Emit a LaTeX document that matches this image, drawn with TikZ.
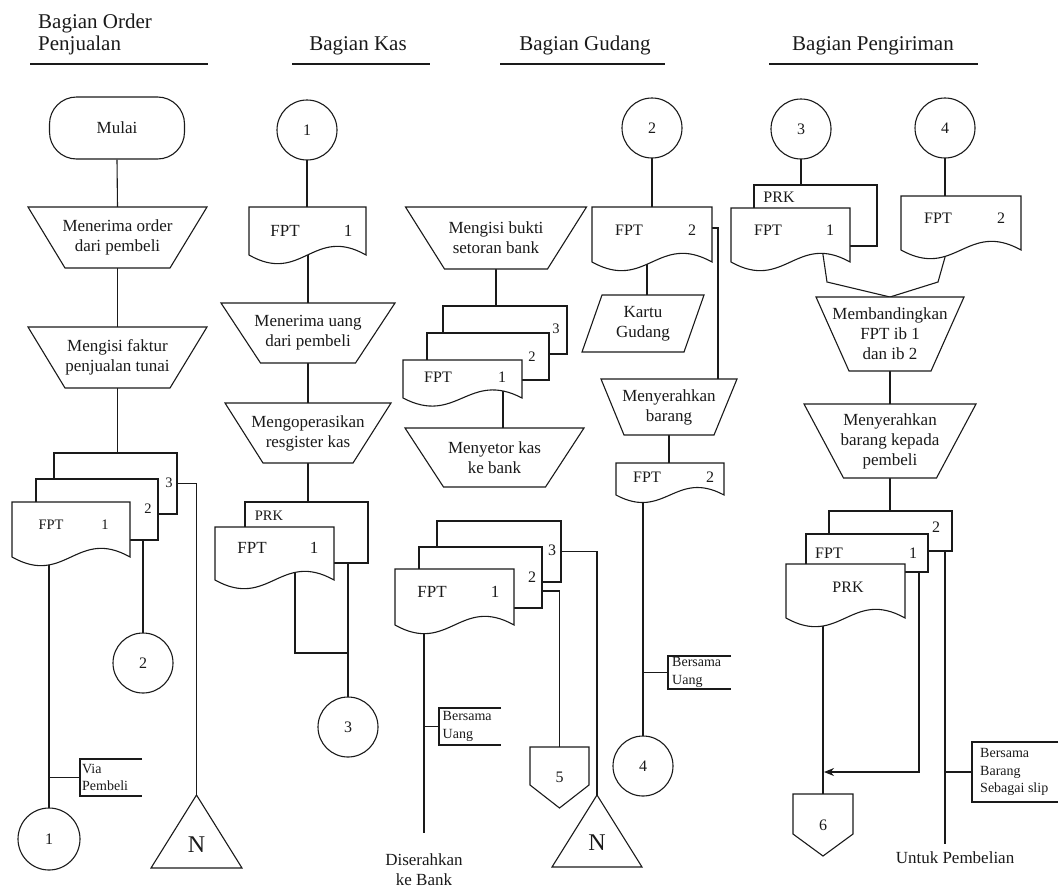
\documentclass[tikz,border=0pt]{standalone}
\usepackage{fontspec}
\setmainfont{Liberation Serif}
\usetikzlibrary{arrows.meta}
\definecolor{ink}{HTML}{1A1A1A}
\pgfdeclarelayer{wires}
\pgfsetlayers{wires,main}

\newcommand\ftitle{\fontsize{21}{25}\selectfont}
\newcommand\fbody{\fontsize{17}{20}\selectfont}
\newcommand\fdoc{\fontsize{16}{19}\selectfont}
\newcommand\fsmall{\fontsize{14.5}{17}\selectfont}
\newcommand\fnote{\fontsize{14}{17.5}\selectfont}
\newcommand\fbig{\fontsize{24}{28}\selectfont}

\tikzset{
  shp/.style={draw=ink, line width=1.1pt, fill=white},
  wire/.style={draw=ink, line width=1.1pt},
  lbl/.style={inner sep=0pt, text=ink, align=center},
  hole/.style={inner sep=0pt, outer sep=0pt},
  conn/.style={shp, circle, inner sep=0pt, outer sep=0pt, minimum size=60, font=\fdoc, text=ink},
}

% trapezoid process box: name, centre x, top y, top width, bottom width, height, text
\newcommand\trapz[7]{%
  \draw[shp] ({#2-#4/2},#3) -- ({#2+#4/2},#3) -- ({#2+#5/2},{#3+#6}) -- ({#2-#5/2},{#3+#6}) -- cycle;
  \node[lbl, hole, font=\fbody, minimum width=#5, minimum height=#6] (#1) at (#2,{#3+#6/2}) {#7};}

% document with wavy foot: name, left, top, right, bottom of sides, wave depth
\newcommand\docu[6]{%
  \draw[shp] (#2,#3) -- (#4,#3) -- (#4,#5) .. controls ({#4-(#4-#2)*0.45},{#5-#6}) and ({#2+(#4-#2)*0.45},{#5+#6}) .. (#2,#5) -- cycle;
  \node[hole, minimum width={#4-#2}, minimum height={#5-#3}] (#1) at ({(#2+#4)/2},{(#3+#5)/2}) {};}

% plain copy sheet behind a document: name, left, top, right, bottom
\newcommand\sheetbox[5]{%
  \node[shp, hole, minimum width={#4-#2}, minimum height={#5-#3}] (#1) at ({(#2+#4)/2},{(#3+#5)/2}) {};}

% open annotation bracket: name, x, top, bottom, right end, text inset, text
\newcommand\notebox[7]{%
  \draw[wire] (#5,#3) -- (#2,#3) -- (#2,#4) -- (#5,#4);
  \coordinate (#1) at (#2,{(#3+#4)/2});
  \node[lbl, font=\fnote, align=left, anchor=west] (#1-t) at ({#2+#6},{(#3+#4)/2}) {#7};}

% off-page connector: name, centre x, top, half width, side height, tip depth, text
\newcommand\offpage[7]{%
  \draw[shp] ({#2-#4},#3) -- ({#2+#4},#3) -- ({#2+#4},{#3+#5}) -- (#2,{#3+#5+#6}) -- ({#2-#4},{#3+#5}) -- cycle;
  \node[lbl, hole, font=\fdoc, minimum width={2*#4}, minimum height={#5+#6}] (#1) at (#2,{#3+(#5+#6)/2}) {#7};}

% file triangle: name, apex x, apex y, half base, height
\newcommand\offtri[5]{%
  \draw[shp] (#2,#3) -- ({#2+#4},{#3+#5}) -- ({#2-#4},{#3+#5}) -- cycle;
  \node[hole, minimum width={2*#4}, minimum height=#5] (#1) at (#2,{#3+#5/2}) {};}

\begin{document}
\begin{tikzpicture}[x=1pt,y=-1pt]
\useasboundingbox (0,0) rectangle (1059,889);

% lane headings
\node[lbl, font=\ftitle, anchor=base west] (h1a) at (38,28) {Bagian Order};
\node[lbl, font=\ftitle, anchor=base west] (h1b) at (38,50) {Penjualan};
\node[lbl, font=\ftitle, anchor=base] (h2) at (358,50) {Bagian Kas};
\node[lbl, font=\ftitle, anchor=base] (h3) at (585,50) {Bagian Gudang};
\node[lbl, font=\ftitle, anchor=base] (h4) at (873,50) {Bagian Pengiriman};
\draw[wire] (30,64) -- (208,64);
\draw[wire] (292,64) -- (430,64);
\draw[wire] (500,64) -- (665,64);
\draw[wire] (769,64) -- (978,64);

% ---- Bagian Order Penjualan ----
\node[shp, rounded corners=27pt, minimum width=135, minimum height=62, font=\fbody, text=ink] (mulai) at (117,128) {Mulai};
\trapz{o1}{117.5}{207}{179}{105}{61}{Menerima order\\dari pembeli}
\trapz{o2}{117.5}{327}{179}{105}{61}{Mengisi faktur\\penjualan tunai}
\sheetbox{o3s}{54}{453}{177}{514}
\sheetbox{o2s}{36}{479}{158}{540}
\docu{o1d}{12}{502}{130}{557}{30}
\node[lbl, font=\fsmall] (o3n) at (169,483) {3};
\node[lbl, font=\fsmall] (o2n) at (148,509) {2};
\node[lbl, font=\fsmall] (o1a) at (51,525) {FPT};
\node[lbl, font=\fsmall] (o1b) at (105,525) {1};
\node[conn] (c2a) at (143,663) {2};
\node[conn, minimum size=62] (c1a) at (49,839) {1};
\offtri{na}{196.5}{795}{45.5}{73}
\node[lbl, font=\fbig] (nan) at (196.5,845) {N};
\notebox{via}{80}{759}{796}{142}{2}{Via\\Pembeli}

% ---- Bagian Kas ----
\node[conn] (k1) at (307,130) {1};
\docu{kd1}{249}{207}{366}{255}{30}
\node[lbl, font=\fbody] (kd1a) at (285,231) {FPT};
\node[lbl, font=\fbody] (kd1b) at (348,231) {1};
\trapz{k2}{308}{303}{174}{95}{60}{Menerima uang\\dari pembeli}
\trapz{k3}{308}{403}{166}{90}{60}{Mengoperasikan\\resgister kas}
\sheetbox{kprk}{245}{502}{368}{563}
\docu{kd2}{215}{527}{334}{580}{30}
\node[lbl, font=\fsmall] (kprka) at (269,516) {PRK};
\node[lbl, font=\fbody] (kd2a) at (252,548) {FPT};
\node[lbl, font=\fbody] (kd2b) at (314,548) {1};
\node[conn] (k3c) at (348,727) {3};
\coordinate (kw) at (295,560);
\coordinate (kj) at (348,653);

% ---- Bagian Gudang: setoran bank ----
\trapz{g1}{496}{207}{181}{103}{62}{Mengisi bukti\\setoran bank}
\sheetbox{g3s}{443}{306}{567}{354}
\sheetbox{g2s}{427}{333}{549}{380}
\docu{gd1}{403}{360}{522}{398}{28}
\node[lbl, font=\fsmall] (g3n) at (556,329) {3};
\node[lbl, font=\fsmall] (g2n) at (532,357) {2};
\node[lbl, font=\fdoc] (gd1a) at (438,377) {FPT};
\node[lbl, font=\fdoc] (gd1b) at (502,377) {1};
\trapz{g4}{494.5}{428}{179}{102}{59}{Menyetor kas\\ke bank}
\coordinate (gw) at (503,385);

\sheetbox{b3s}{437}{521}{561}{582}
\sheetbox{b2s}{419}{547}{542}{608}
\docu{bd1}{395}{569}{514}{625}{30}
\node[lbl, font=\fdoc] (b3n) at (552,550) {3};
\node[lbl, font=\fdoc] (b2n) at (532,577) {2};
\node[lbl, font=\fbody] (bd1a) at (432,592) {FPT};
\node[lbl, font=\fbody] (bd1b) at (495,592) {1};
\offpage{o5}{559.5}{747}{29.5}{38}{23}{5}
\offtri{nb}{597}{795}{45}{72}
\node[lbl, font=\fbig] (nbn) at (597,843) {N};
\notebox{bu}{439}{708}{745}{501}{3.5}{Bersama\\Uang}
\coordinate (b2e) at (542,591);
\coordinate (bw) at (424,610);
\coordinate (bend) at (424,833);
\node[lbl, font=\fbody] (bank) at (424,870) {Diserahkan\\ke Bank};

% ---- Bagian Gudang: barang ----
\node[conn] (r2) at (652,128) {2};
\docu{rd1}{592}{207}{712}{262}{30}
\node[lbl, font=\fdoc] (rd1a) at (629,230) {FPT};
\node[lbl, font=\fdoc] (rd1b) at (692,230) {2};
\coordinate (rde) at (712,228);
\coordinate (r4in) at (718,379);
\coordinate (rw) at (647,255);
\draw[shp] (602,295) -- (704,295) -- (684,352) -- (582,352) -- cycle;
\node[lbl, hole, font=\fbody, minimum width=102, minimum height=57] (kg) at (643,323.5) {Kartu\\Gudang};
\trapz{r4}{669}{379}{136}{90}{56}{Menyerahkan\\barang}
\docu{rd2}{616}{463}{724}{495}{26}
\node[lbl, font=\fdoc] (rd2a) at (647,477) {FPT};
\node[lbl, font=\fdoc] (rd2b) at (710,477) {2};
\node[conn] (r4c) at (643,766) {4};
\notebox{gu}{668}{656}{689}{731}{4}{Bersama\\Uang}

% ---- Bagian Pengiriman ----
\node[conn] (p3) at (801,129) {3};
\node[conn] (p4) at (945,128) {4};
\sheetbox{pprk}{754}{185}{877}{246}
\docu{pd1}{731}{208}{850}{262}{30}
\node[lbl, font=\fdoc] (pprka) at (779,197) {PRK};
\node[lbl, font=\fdoc] (pd1a) at (768,230) {FPT};
\node[lbl, font=\fdoc] (pd1b) at (830,230) {1};
\docu{pd2}{901}{196}{1021}{250}{30}
\node[lbl, font=\fdoc] (pd2a) at (938,218) {FPT};
\node[lbl, font=\fdoc] (pd2b) at (1001,218) {2};
\coordinate (pw1) at (822,248);
\coordinate (pk1) at (827,282);
\coordinate (pk2) at (938,282);
\coordinate (pw2) at (949,243);
\trapz{pm}{890}{297}{148}{82}{74}{Membandingkan\\FPT ib 1\\dan ib 2}
\trapz{pn}{890}{404}{172}{93}{74}{Menyerahkan\\barang kepada\\pembeli}
\sheetbox{ps2}{829}{511}{952}{551}
\sheetbox{ps1}{806}{534}{928}{572}
\docu{pd3}{786}{564}{905}{618}{30}
\node[lbl, font=\fdoc] (ps2n) at (936,527) {2};
\node[lbl, font=\fdoc] (ps1a) at (829,553) {FPT};
\node[lbl, font=\fdoc] (ps1b) at (913,553) {1};
\node[lbl, font=\fdoc] (pd3a) at (848,587) {PRK};
\offpage{o6}{823}{794}{30}{40}{22}{6}
\coordinate (parr) at (919,772);
\coordinate (ptip) at (824,772);
\coordinate (pu) at (945,844);
\notebox{pbox}{972}{742}{802}{1058}{8}{Bersama\\Barang\\Sebagai slip}
\node[lbl, font=\fbody] (untuk) at (955,858) {Untuk Pembelian};

% ---- flow lines, kept underneath the symbols ----
\begin{pgfonlayer}{wires}
  % order
  \draw[wire] (mulai.south) -- (o1.north);
  \draw[wire] (o1.south) -- (o2.north);
  \draw[wire] (o2.south) -- (o2.south |- o3s.north);
  \draw[wire] (o3s.east) -| (na.north);
  \draw[wire] (c2a.north |- o2s.center) -- (c2a.north);
  \draw[wire] (c1a.north |- o1d.center) -- (c1a.north);
  \draw[wire] (c1a.north |- via) -- (via);
  % kas
  \draw[wire] (k1.south) -- (k1.south |- kd1.north);
  \draw[wire] (k2.north |- kd1.center) -- (k2.north);
  \draw[wire] (k2.south) -- (k3.north);
  \draw[wire] (k3.south) -- (k3.south |- kprk.north);
  \draw[wire] (kw) |- (kj);
  \draw[wire] (k3c.north |- kprk.center) -- (k3c.north);
  % gudang, setoran bank
  \draw[wire] (g1.south) -- (g1.south |- g3s.north);
  \draw[wire] (gw) -- (gw |- g4.north);
  \draw[wire] (b3s.east) -| (nb.north);
  \draw[wire] (b2e) -| (o5.north);
  \draw[wire] (bw) -- (bend);
  \draw[wire] (bw |- bu) -- (bu);
  % gudang, barang
  \draw[wire] (r2.south) -- (r2.south |- rd1.north);
  \draw[wire] (rde) -| (r4in);
  \draw[wire] (rw) -- (rw |- kg.north);
  \draw[wire] (r4.south) -- (r4.south |- rd2.north);
  \draw[wire] (r4c.north |- rd2.center) -- (r4c.north);
  \draw[wire] (r4c.north |- gu) -- (gu);
  % pengiriman
  \draw[wire] (p3.south) -- (p3.south |- pprk.north);
  \draw[wire] (p4.south) -- (p4.south |- pd2.north);
  \draw[wire] (pw1) -- (pk1) -- (pm.north) -- (pk2) -- (pw2);
  \draw[wire] (pm.south) -- (pn.north);
  \draw[wire] (pn.south) -- (pn.south |- ps2.north);
  \draw[wire] (o6.north |- pd3.center) -- (o6.north);
  \draw[wire, -{Stealth[length=10pt, width=8pt]}] (parr |- ps1.center) -- (parr) -- (ptip);
  \draw[wire] (pu |- ps2.center) -- (pu);
  \draw[wire] (pu |- pbox) -- (pbox);
\end{pgfonlayer}
\end{tikzpicture}
\end{document}
